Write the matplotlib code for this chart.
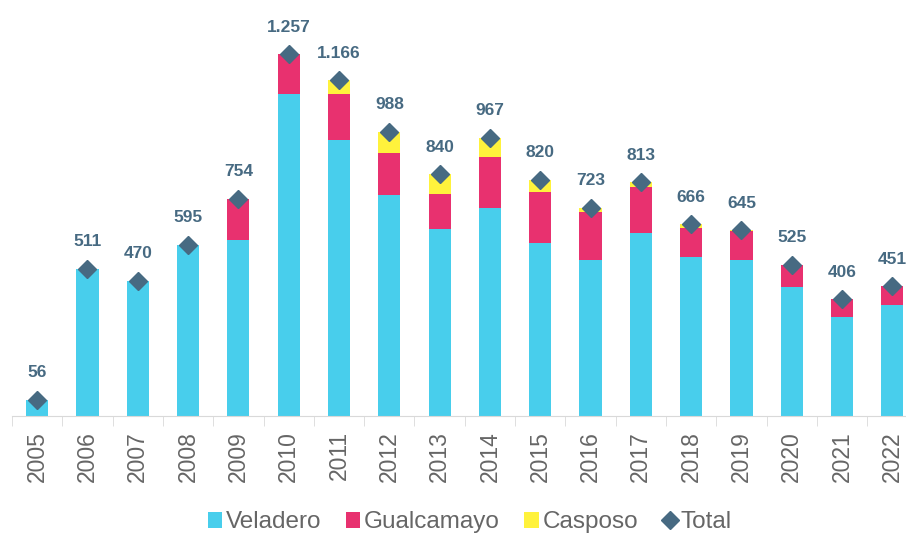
import numpy as np
import matplotlib.pyplot as plt

plt.rcParams['font.family'] = ['Liberation Sans', 'DejaVu Sans']

# datos
years = ['2005', '2006', '2007', '2008', '2009', '2010', '2011', '2012', '2013',
         '2014', '2015', '2016', '2017', '2018', '2019', '2020', '2021', '2022']
veladero = [56, 511, 470, 595, 611, 1117, 957, 766, 649, 721, 601, 543, 636, 551, 543, 449, 343, 387]
gualcamayo = [0, 0, 0, 0, 143, 140, 160, 146, 122, 178, 178, 166, 160, 101, 100, 76, 63, 64]
casposo = [0, 0, 0, 0, 0, 0, 49, 76, 69, 68, 41, 14, 17, 14, 2, 0, 0, 0]
total = [56, 511, 470, 595, 754, 1257, 1166, 988, 840, 967, 820, 723, 813, 666, 645, 525, 406, 451]

c_vel = '#48CEEC'
c_gua = '#E8316F'
c_cas = '#FFF23C'
c_tot = '#476A82'

fig = plt.figure(figsize=(9.06, 5.34), dpi=100)
ax = fig.add_axes([12 / 906, 118 / 534, 894 / 906, 416 / 534])

x = np.arange(len(years))
w = 0.44
vel = np.array(veladero)
gua = np.array(gualcamayo)
cas = np.array(casposo)

ax.bar(x, vel, w, color=c_vel, label='Veladero')
ax.bar(x, gua, w, bottom=vel, color=c_gua, label='Gualcamayo')
ax.bar(x, cas, w, bottom=vel + gua, color=c_cas, label='Casposo')
ax.plot(x, total, linestyle='none', marker='D', markersize=9, color=c_tot, label='Total', zorder=5)

# etiquetas de total
for xi, t in zip(x, total):
    txt = f'{t:,}'.replace(',', '.')
    ax.annotate(txt, xy=(xi, t), xytext=(0, 14), textcoords='offset points',
                ha='center', va='bottom', fontsize=12.5, fontweight='bold', color=c_tot)

for s in ['top', 'right', 'left']:
    ax.spines[s].set_visible(False)
ax.spines['bottom'].set_color('#D9D9D9')
ax.set_yticks([])

ax.set_xticks(x)
ax.set_xticklabels(years, rotation=90, fontsize=16.5, color='#666666')
ax.tick_params(axis='x', which='major', length=0, pad=11)
ax.set_xticks(np.arange(-0.5, 18, 1), minor=True)
ax.tick_params(axis='x', which='minor', length=7, color='#D9D9D9')

# límites después de los ticks (set_xticks amplía la vista)
ax.set_xlim(-0.5, 17.27)
ax.set_ylim(0, 1445)

h, l = ax.get_legend_handles_labels()
order = [1, 2, 3, 0]
ax.legend([h[i] for i in order], [l[i] for i in order],
          loc='lower center', bbox_to_anchor=(0.512, -0.335), ncol=4, frameon=False,
          fontsize=17.5, handlelength=0.6, handleheight=0.6, handletextpad=0.15,
          columnspacing=1.0, labelcolor='#666666', markerscale=1.0)

plt.savefig('out.png', dpi=100)
